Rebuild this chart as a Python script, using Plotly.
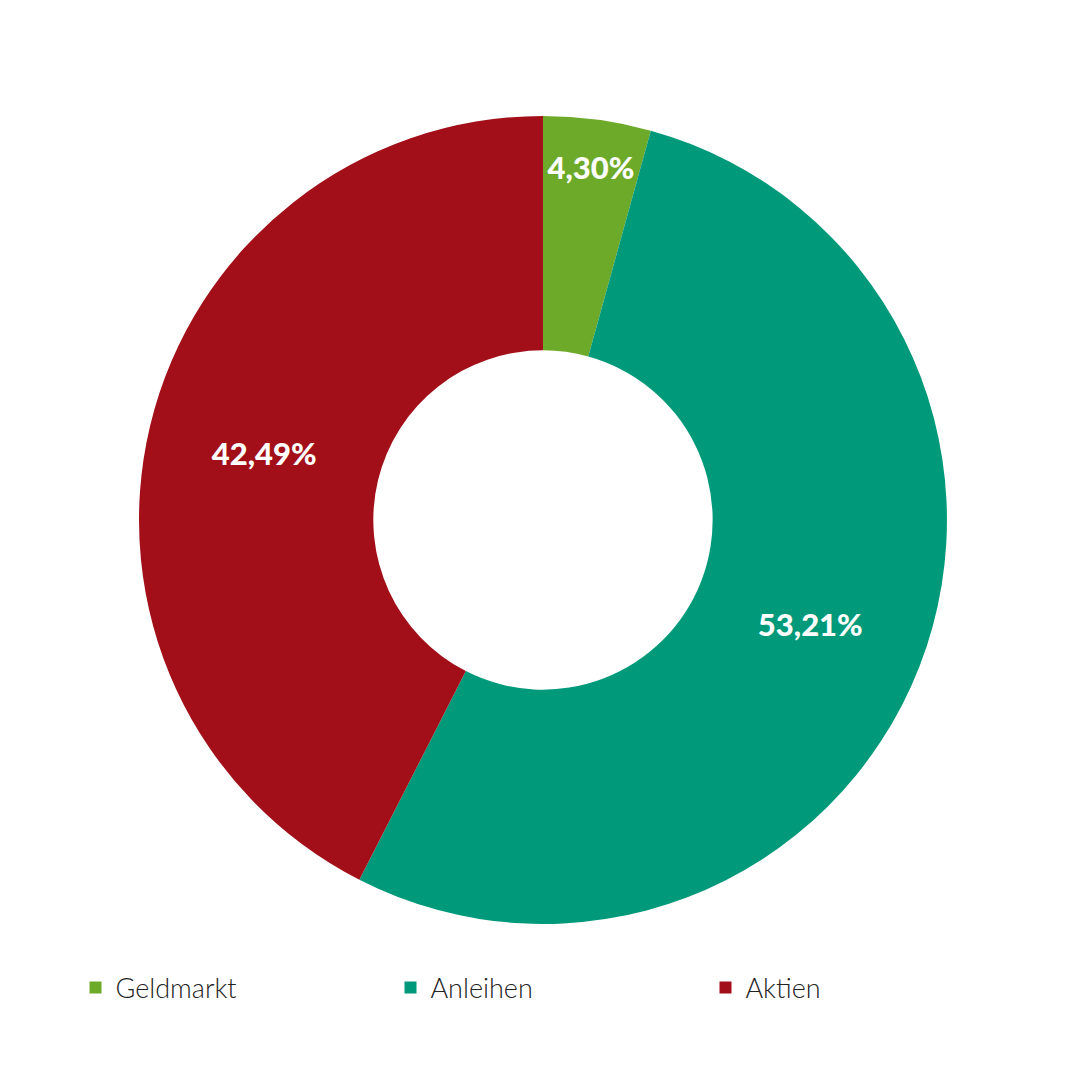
import plotly.graph_objects as go

labels = ["Geldmarkt", "Anleihen", "Aktien"]
values = [4.30, 53.21, 42.49]
texts = ["4,30%", "53,21%", "42,49%"]
colors = ["#6eaa29", "#009a7a", "#a20f18"]

fig = go.Figure(go.Pie(
    labels=labels, values=values, text=texts, textinfo="text",
    hole=0.42, sort=False, direction="clockwise", rotation=0,
    marker=dict(colors=colors, line=dict(width=0)),
    textfont=dict(color="white", size=31, family="Lato Black, Lato, sans-serif"),
    insidetextorientation="horizontal",
    domain=dict(x=[0.1213, 0.8694], y=[0.1519, 0.9]),
    hoverinfo="skip",
))
fig.update_layout(
    width=1080, height=1080, margin=dict(l=0, r=0, t=0, b=0),
    paper_bgcolor="white", plot_bgcolor="white",
    legend=dict(orientation="h", x=0.5, xanchor="center", y=0.0926, yanchor="middle",
                font=dict(size=27, color="#222", family="Lato Light, Lato, sans-serif"),
                entrywidth=270, itemsizing="constant"),
)
fig.write_html("out.html")
